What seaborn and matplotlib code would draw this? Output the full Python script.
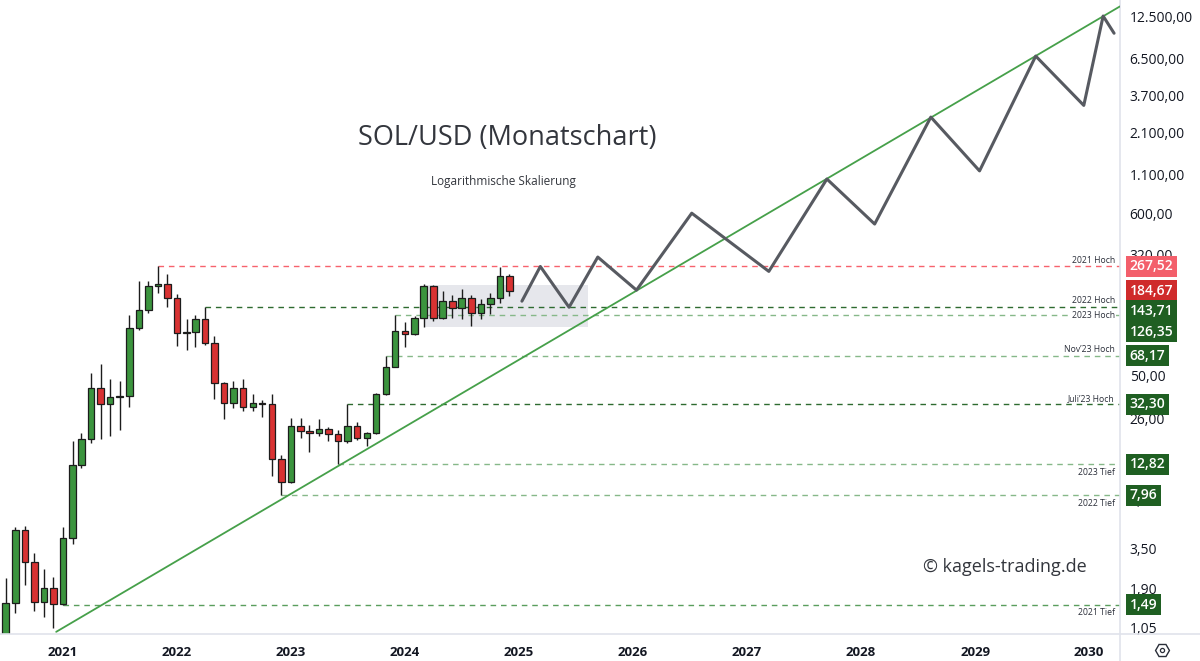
import numpy as np
import pandas as pd
import matplotlib
matplotlib.use("Agg")
import matplotlib.pyplot as plt
import matplotlib.dates as mdates
import seaborn as sns
from matplotlib.lines import Line2D
from matplotlib.patches import Rectangle
from matplotlib.ticker import FixedLocator, FuncFormatter, NullLocator
import matplotlib.transforms as mtransforms

# ---------------- data ----------------
months = pd.date_range("2020-07-01", "2024-12-01", freq="MS")
opens = [0.62, 1.53, 4.68, 2.86, 1.55, 1.92,
         1.51, 4.14, 12.7, 18.8, 41.6, 32.2, 35.9, 36.8, 104.5, 137, 198, 204,
         164, 96.8, 97.6, 119, 82, 44.5, 32.7, 41.6, 31.0, 33.0, 32.3, 13.9,
         9.73, 23.2, 21.4, 20.6, 22.1, 20.3, 18.4, 23.2, 19.1, 20.8, 37.6, 57.4,
         99.3, 95.3, 122, 198, 122, 158, 142, 166, 131.6, 149.6, 164, 231]
highs = [2.24, 4.90, 4.99, 3.30, 2.57, 2.27,
         4.90, 18.4, 20.8, 52.0, 59.8, 47.5, 46.0, 127, 215, 215, 267.52, 238,
         175, 119, 126, 143.71, 92, 45.5, 46.3, 47.5, 37.7, 34.5, 37.7, 14.8,
         26.2, 26.2, 23.4, 25.6, 22.6, 21.8, 32.3, 24.7, 21.0, 38.5, 68.17, 126.35,
         114.5, 125, 203, 200, 184.5, 172, 189, 172, 162, 179, 264, 240]
lows = [0.50, 1.31, 2.01, 1.34, 1.24, 1.04,
        1.49, 3.80, 12.2, 17.8, 18.8, 19.9, 21.7, 31.0, 101, 131, 179, 144,
        79, 74, 77.5, 80, 35, 25.6, 30.5, 29.3, 29.3, 26.7, 10.7, 7.96,
        9.6, 19.3, 15.6, 19.7, 18.4, 12.82, 17.8, 18.6, 17.0, 20.5, 37.0, 57.0,
        78, 94, 106, 116, 120, 122, 120, 107, 119, 128, 152, 170]
closes = [1.53, 4.68, 2.86, 1.55, 1.92, 1.51,
          4.14, 12.7, 18.8, 41.6, 32.2, 35.9, 36.8, 104.5, 137, 198, 204, 164,
          96.8, 97.6, 119, 82, 44.5, 32.7, 41.6, 31.0, 33.0, 32.3, 13.9, 9.73,
          23.2, 21.4, 20.6, 22.1, 20.3, 18.4, 23.2, 19.1, 20.8, 37.6, 57.4, 99.3,
          95.3, 122, 198, 122, 158, 142, 166, 131.6, 149.6, 164, 231, 184.67]

# projected zig-zag path
proj_dates = pd.to_datetime(["2025-01-10", "2025-03-10", "2025-06-10", "2025-09-10",
                             "2026-01-12", "2026-07-08", "2027-03-12", "2027-09-14",
                             "2028-02-14", "2028-08-12", "2029-01-15", "2029-07-14",
                             "2029-12-15", "2030-02-15", "2030-03-22"])
proj_values = [157, 267.5, 143, 309, 186, 606, 248, 1024, 513, 2650, 1160, 6760,
               3170, 12500, 9600]

# long-term support trendline (two anchor points)
trend_dates = pd.to_datetime(["2020-12-10", "2030-04-10"])
trend_values = [0.98, 14500]

# consolidation box
box_dates = pd.to_datetime(["2024-03-05", "2025-08-09"])
box_values = [106, 201]

# horizontal levels
level_values = [267.52, 143.71, 126.35, 68.17, 32.30, 12.82, 7.96, 1.49]
level_starts = pd.to_datetime(["2021-11-01", "2022-04-01", "2023-12-01", "2023-11-01",
                               "2023-07-01", "2023-06-01", "2022-12-01", "2021-01-01"])
level_names = ["2021 Hoch", "2022 Hoch", "2023 Hoch", "Nov\u201923 Hoch",
               "Juli\u201923 Hoch", "2023 Tief", "2022 Tief", "2021 Tief"]
level_kind = ["red", "dark", "light", "light", "dark", "light", "light", "mid"]
label_side = ["above", "above", "on", "above", "above", "below", "below", "below"]

current_price = 184.67

y_ticks = [12500, 6500, 3700, 2100, 1100, 600, 320, 50, 26, 14, 7.5, 3.5, 1.9, 1.05]
year_ticks = pd.to_datetime([f"{y}-01-01" for y in range(2021, 2031)])

# ---------------- style ----------------
sns.set_theme(style="white")
plt.rcParams["font.family"] = ["Open Sans", "DejaVu Sans"]

W, H = 1200, 661
fig = plt.figure(figsize=(12, 6.61), dpi=100)
ax = fig.add_axes([0, 27 / H, 1120 / W, 634 / H])
ax.set_yscale("log")
ax.set_xlim(pd.Timestamp("2020-06-13"), pd.Timestamp("2030-04-10"))
ax.set_ylim(0.948, 15990)

GREEN = "#3b943e"
RED = "#d83232"
EDGE = "#1c1c1c"
level_colors = {"red": "#f7626d", "dark": "#2e6b30", "light": "#86b889", "mid": "#5a9e5d"}

# consolidation box
ax.add_patch(Rectangle((mdates.date2num(box_dates[0]), box_values[0]),
                       mdates.date2num(box_dates[1]) - mdates.date2num(box_dates[0]),
                       box_values[1] - box_values[0],
                       facecolor="#e6e7ec", edgecolor="none", zorder=0.5))

# horizontal levels
xmax = ax.get_xlim()[1]
for v, s, k in zip(level_values, level_starts, level_kind):
    ax.hlines(v, mdates.date2num(s), xmax, colors=level_colors[k], lw=1.0,
              linestyles=(0, (4, 3.5)), zorder=1)

# candles
df = pd.DataFrame({"date": months, "open": opens, "high": highs, "low": lows, "close": closes})
xnum = mdates.date2num(df["date"])
up = df["close"] >= df["open"]
ax.vlines(xnum, df["low"], df["high"], colors=EDGE, lw=1.0, zorder=2)
bottoms = np.minimum(df["open"], df["close"])
heights = np.abs(df["close"] - df["open"])
heights = np.maximum(heights, bottoms * 0.012)
ax.bar(xnum, heights, bottom=bottoms, width=21,
       color=[GREEN if u else RED for u in up], edgecolor=EDGE, linewidth=0.9, zorder=3)

# trendline and projection via seaborn
sns.lineplot(x=trend_dates, y=trend_values, ax=ax, color="#46a04a", lw=1.3, zorder=4)
sns.lineplot(x=proj_dates, y=proj_values, ax=ax, color="#575a61", lw=2.2, zorder=5,
             sort=False)

# axes styling
for sp in ["left", "top", "bottom"]:
    ax.spines[sp].set_visible(False)
ax.spines["right"].set_color("#e0e3eb")
ax.spines["right"].set_linewidth(1.2)
ax.grid(False)

ax.yaxis.tick_right()
ax.yaxis.set_major_locator(FixedLocator(y_ticks))
ax.yaxis.set_minor_locator(NullLocator())


def de(v, pos=None):
    s = f"{v:,.2f}"
    return s.replace(",", "X").replace(".", ",").replace("X", ".")


ax.yaxis.set_major_formatter(FuncFormatter(de))
ax.tick_params(axis="y", length=0, pad=7, labelsize=10, labelcolor="#131722")
ax.set_xticks(mdates.date2num(year_ticks))
ax.set_xticklabels([str(d.year) for d in year_ticks], fontweight="bold")
ax.tick_params(axis="x", length=0, pad=9, labelsize=9.5, labelcolor="#131722")
ax.set_xlabel("")
ax.set_ylabel("")

# level labels (small text near the right edge)
trans_lbl = mtransforms.blended_transform_factory(ax.transAxes, ax.transData)
for v, name, side in zip(level_values, level_names, label_side):
    off = {"above": 6, "below": -8, "on": 0}[side]
    t = ax.text(0.9955, v, name, ha="right", va="center",
                fontsize=6.2, color="#2a2e39", zorder=6)
    t.set_transform(trans_lbl + mtransforms.ScaledTranslation(0, off / 100, fig.dpi_scale_trans))
    if side == "on":
        t.set_bbox(dict(facecolor="white", edgecolor="none", pad=1.0))

# price tags on the right scale with collision avoidance
tags = [(267.52, "#f35f6b")] + [(current_price, "#cf2b2b")] + \
       [(v, "#1f5f22") for v in level_values[1:]]
tags.sort(key=lambda t: -t[0])
inv = ax.transData.inverted()
prev_y = None
for v, col in tags:
    ypix = ax.transData.transform((ax.get_xlim()[0], v))[1]
    if prev_y is not None and prev_y - ypix < 20.5:
        ypix = prev_y - 20.5
    prev_y = ypix
    ypos = inv.transform((0, ypix))[1]
    ax.text(1.0085, ypos, de(v), transform=trans_lbl, ha="left", va="center",
            fontsize=10, color="white", fontweight="semibold", zorder=20, clip_on=False,
            bbox=dict(boxstyle="square,pad=0.26", facecolor=col, edgecolor="none"))

# bottom line across full width and separator
fig.add_artist(Line2D([0, 1], [27 / H, 27 / H], color="#e0e3eb", lw=1.2, transform=fig.transFigure))
fig.add_artist(Line2D([1120 / W, 1120 / W], [0, 27 / H], color="#e0e3eb", lw=1.2, transform=fig.transFigure))

# settings icon
fig.add_artist(Line2D([1162 / W], [1 - 650 / H], marker="H", markersize=10, mfc="none",
                      mec="#2a2e39", mew=1.0, transform=fig.transFigure))
fig.add_artist(Line2D([1162 / W], [1 - 650 / H], marker="o", markersize=3, mfc="none",
                      mec="#2a2e39", mew=0.9, transform=fig.transFigure))

# titles and watermark
fig.text(507 / W, 1 - 138 / H, "SOL/USD (Monatschart)", ha="center", va="center",
         fontsize=19.5, color="#33363d")
fig.text(503 / W, 1 - 181 / H, "Logarithmische Skalierung", ha="center", va="center",
         fontsize=8.5, color="#33363d")
fig.text(1005 / W, 1 - 567 / H, "\u00a9 kagels-trading.de", ha="center", va="center",
         fontsize=13, color="#33363d")

fig.savefig("out.png", dpi=100, facecolor="white")
